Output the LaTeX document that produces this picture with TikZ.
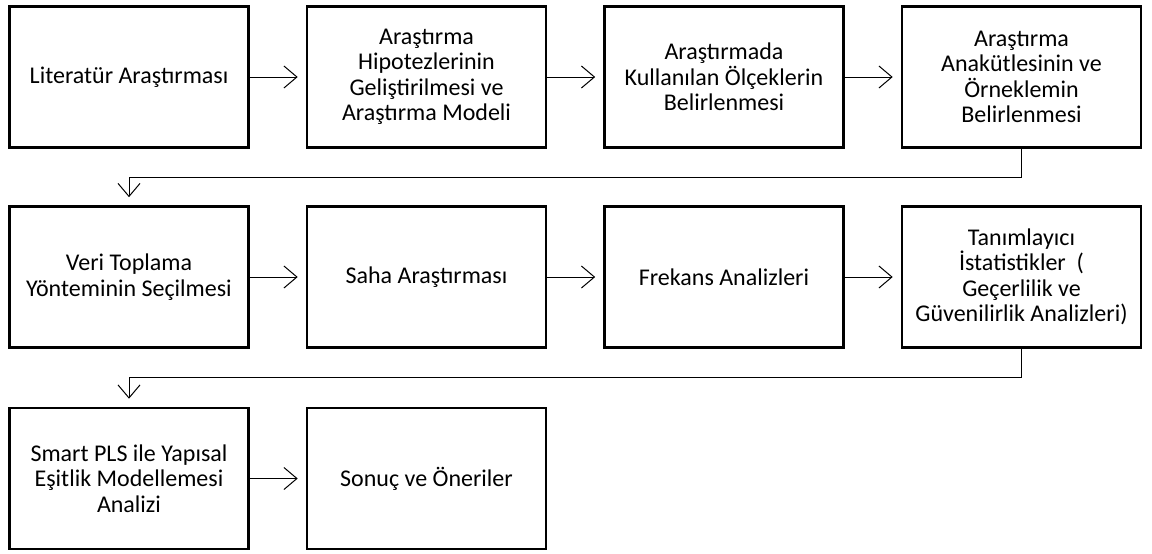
\documentclass[tikz,border=0pt]{standalone}
\usepackage{fontspec}
\setmainfont{Carlito}
\usetikzlibrary{arrows.meta}
\begin{document}
\begin{tikzpicture}[x=1pt,y=-1pt,
  stepbox/.style={draw, line width=2.6pt, minimum width=239pt, minimum height=141pt,
    inner sep=0pt, align=center, font=\fontsize{24}{25.5}\selectfont},
  flow/.style={line width=1pt, -{Straight Barb[length=13pt,width=22pt,line width=1pt]},
    shorten >=8pt}]
  \useasboundingbox (0,0) rectangle (1152,554);

  % first row
  \node[stepbox] (a1) at (129,77)    {Literatür Araştırması};
  \node[stepbox] (a2) at (426.5,77)  {Araştırma\\Hipotezlerinin\\Geliştirilmesi ve\\Araştırma Modeli};
  \node[stepbox] (a3) at (724,77)    {Araştırmada\\Kullanılan Ölçeklerin\\Belirlenmesi};
  \node[stepbox] (a4) at (1021.5,77) {Araştırma\\Anakütlesinin ve\\Örneklemin\\Belirlenmesi};

  % second row
  \node[stepbox] (b1) at (129,277)    {Veri Toplama\\Yönteminin Seçilmesi};
  \node[stepbox] (b2) at (426.5,277)  {Saha Araştırması};
  \node[stepbox] (b3) at (724,277)    {Frekans Analizleri};
  \node[stepbox] (b4) at (1021.5,277) {Tanımlayıcı\\İstatistikler\ \ (\\Geçerlilik ve\\Güvenilirlik Analizleri)};

  % third row
  \node[stepbox] (c1) at (129,478.5)   {Smart PLS ile Yapısal\\Eşitlik Modellemesi\\Analizi};
  \node[stepbox] (c2) at (426.5,478.5) {Sonuç ve Öneriler};

  % connectors along each row
  \draw[flow] (a1.east) -- (a2.west);
  \draw[flow] (a2.east) -- (a3.west);
  \draw[flow] (a3.east) -- (a4.west);
  \draw[flow] (b1.east) -- (b2.west);
  \draw[flow] (b2.east) -- (b3.west);
  \draw[flow] (b3.east) -- (b4.west);
  \draw[flow] (c1.east) -- (c2.west);

  % returns to the start of the next row
  \coordinate (r1) at (1021.5,177);
  \coordinate (r2) at (1021.5,377);
  \draw[flow] (a4.south) -- (r1) -| (b1.north);
  \draw[flow] (b4.south) -- (r2) -| (c1.north);
\end{tikzpicture}
\end{document}
